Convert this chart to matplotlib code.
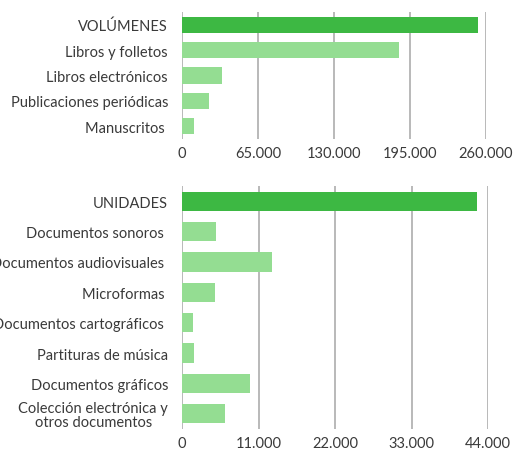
import numpy as np
import matplotlib.pyplot as plt
from matplotlib.ticker import FuncFormatter

plt.rcParams['font.family'] = ['Lato', 'DejaVu Sans']

# datos: volumenes
vol_labels = ["VOLÚMENES", "Libros y folletos", "Libros electrónicos",
              "Publicaciones periódicas", "Manuscritos "]
vol_values = [253000, 185300, 33900, 23100, 10500]
vol_ticks = [0, 65000, 130000, 195000, 260000]

# datos: unidades
uni_labels = ["UNIDADES", "Documentos sonoros ", "Documentos audiovisuales ",
              "Microformas ", "Documentos cartográficos ", "Partituras de música",
              "Documentos gráficos", "Colección electrónica y\notros documentos"]
uni_values = [42400, 4930, 12870, 4790, 1520, 1720, 9810, 6220]
uni_ticks = [0, 11000, 22000, 33000, 44000]

DARK = "#3db843"
LIGHT = "#94dd92"
TXT = "#3a3a3a"
GRID = "#a6a6a6"


def miles(v, pos):
    return "{:,.0f}".format(v).replace(",", ".")


def draw(ax, labels, values, ticks):
    n = len(labels)
    y = np.arange(n)
    cols = [DARK] + [LIGHT] * (n - 1)
    ax.barh(y, values, height=0.63, color=cols, zorder=3)
    ax.set_ylim(n - 0.5, -0.5)
    ax.set_xlim(ticks[0], ticks[-1])
    ax.set_xticks(ticks)
    ax.xaxis.set_major_formatter(FuncFormatter(miles))
    ax.set_yticks(y)
    ax.set_yticklabels(labels, fontsize=10.5, color=TXT, linespacing=1.0)
    for t in ax.get_yticklabels():
        t.set_multialignment("center")
    ax.grid(axis="x", color=GRID, linewidth=1.1, zorder=0)
    for s in ax.spines.values():
        s.set_visible(False)
    ax.tick_params(axis="both", length=0, colors=TXT, labelsize=10.5)
    ax.tick_params(axis="x", pad=5)
    ax.tick_params(axis="y", pad=10)


fig = plt.figure(figsize=(5.15, 4.52), dpi=100)
ax1 = fig.add_axes([182 / 515, 1 - 140 / 452, 304 / 515, 127 / 452])
ax2 = fig.add_axes([182 / 515, 1 - 430 / 452, 306 / 515, 243 / 452])

draw(ax1, vol_labels, vol_values, vol_ticks)
draw(ax2, uni_labels, uni_values, uni_ticks)

fig.savefig("out.png", dpi=100)
